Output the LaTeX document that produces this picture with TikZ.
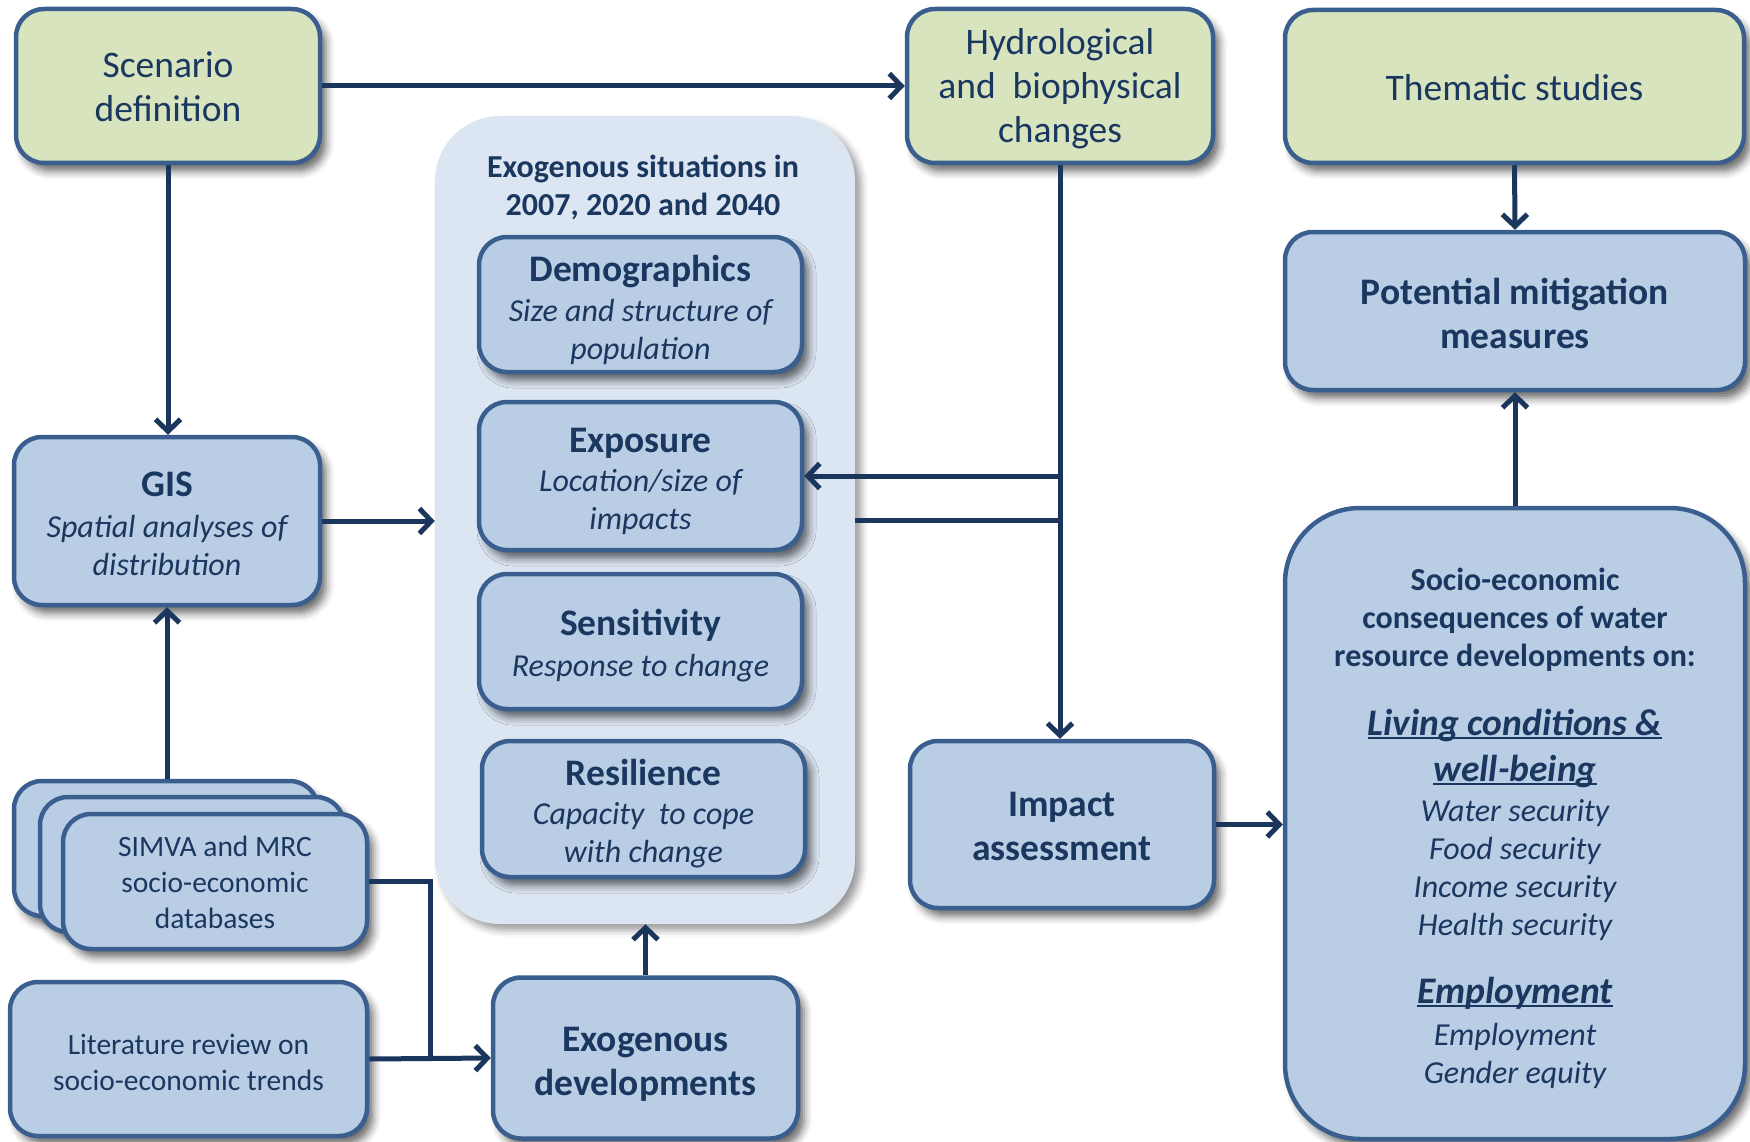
\documentclass[tikz,border=0pt]{standalone}
\usepackage{fontspec}
\setmainfont{Carlito}
\usetikzlibrary{arrows.meta,shadows.blur}
\definecolor{gfill}{HTML}{D7E4BD}
\definecolor{bfill}{HTML}{B9CDE5}
\definecolor{cfill}{HTML}{DCE6F2}
\definecolor{bord}{HTML}{3A5F8F}
\definecolor{txt}{HTML}{1A3760}
\definecolor{arrc}{HTML}{1B365D}
\newcommand\myul[1]{\setbox0\hbox{#1}\rlap{\rule[-4pt]{\wd0}{2pt}}\box0}
\newcommand\fbig{\fontsize{37.5}{44}\selectfont}
\newcommand\fmid{\fontsize{32}{38}\selectfont}
\newcommand\fsm{\fontsize{29.5}{36}\selectfont}
\tikzset{
  boxbase/.style={rounded corners=28pt, draw=bord, line width=4.5pt, inner sep=0pt,
    blur shadow={shadow xshift=6pt, shadow yshift=-8pt, shadow opacity=60, shadow blur radius=8pt}},
  gbox/.style={boxbase, fill=gfill},
  bbox/.style={boxbase, fill=bfill},
  tx/.style={text=txt, align=center, inner sep=0pt},
  conn/.style={draw=arrc, line width=5pt},
  arr/.style={conn, -{Straight Barb[length=12pt, width=25pt, line width=5pt]}},
}
\begin{document}
\begin{tikzpicture}[x=1pt,y=-1pt]
\useasboundingbox (0,0) rectangle (1750,1142);
% container
\node[fill=cfill, rounded corners=65pt, minimum width=420pt, minimum height=808pt, inner sep=0pt,
  blur shadow={shadow xshift=6pt, shadow yshift=-6pt, shadow opacity=40, shadow blur radius=7pt}] (cont) at (645,520) {};
\node[tx, font=\fmid\bfseries] (head) at (643,187) {Exogenous situations in\\2007, 2020 and 2040};
% top row
\node[gbox, minimum width=304pt, minimum height=154pt] (scen) at (168,86) {};
\node[tx, font=\fbig] (scenT) at ([yshift=-1pt]scen.center) {Scenario\\definition};
\node[gbox, minimum width=306pt, minimum height=154pt] (hydro) at (1060,86) {};
\node[tx, font=\fbig] (hydroT) at ([yshift=-3pt]hydro.center) {Hydrological\\and~~biophysical\\changes};
\node[gbox, minimum width=459pt, minimum height=153pt] (them) at (1514.5,86.5) {};
\node[tx, font=\fbig] (themT) at ([yshift=-1pt]them.center) {Thematic studies};
\node[bbox, minimum width=460pt, minimum height=158pt] (pot) at (1515,311) {};
\node[tx, font=\fbig\bfseries] (potT) at ([yshift=-2pt]pot.center) {Potential mitigation\\measures};
% inner boxes
\node[bbox, minimum width=323pt, minimum height=135pt] (demo) at (640.5,304.5) {};
\node[tx, font=\fmid] (demoT) at ([yshift=-5.5pt]demo.center)
  {{\fbig\bfseries Demographics}\\[2pt]{\itshape Size and structure of}\\{\itshape population}};
\node[bbox, minimum width=323pt, minimum height=148pt] (expo) at (640.5,476) {};
\node[tx, font=\fmid] (expoT) at ([yshift=-5.5pt]expo.center)
  {{\fbig\bfseries Exposure}\\[1pt]{\itshape Location/size of}\\{\itshape impacts}};
\node[bbox, minimum width=323pt, minimum height=135pt] (sens) at (640.5,641.5) {};
\node[tx, font=\fmid] (sensT) at ([yshift=-4pt]sens.center)
  {{\fbig\bfseries Sensitivity}\\[3pt]{\itshape Response to change}};
\node[bbox, minimum width=323pt, minimum height=136pt] (resil) at (643.5,809) {};
\node[tx, font=\fmid] (resilT) at ([yshift=-5pt]resil.center)
  {{\fbig\bfseries Resilience}\\[1pt]{\itshape Capacity~ to cope}\\{\itshape with change}};
\node[bbox, minimum width=305pt, minimum height=161pt] (exo) at (645.5,1058) {};
\node[tx, font=\fbig\bfseries] (exoT) at ([yshift=-6pt]exo.center) {Exogenous\\developments};
% left column
\node[bbox, minimum width=306pt, minimum height=168pt] (gis) at (167,521) {};
\node[tx, font=\fmid] (gisT) at ([yshift=-3pt]gis.center)
  {{\fbig\bfseries GIS}\\[3pt]{\itshape Spatial analyses of}\\{\itshape distribution}};
\node[bbox, minimum width=304pt, minimum height=135pt] (simvaA) at (166,848.5) {};
\node[bbox, minimum width=304pt, minimum height=135pt] (simvaB) at (192,864.5) {};
\node[bbox, minimum width=304pt, minimum height=135pt] (simva) at (215,881.5) {};
\node[tx, font=\fsm] (simvaT) at ([yshift=-1pt]simva.center) {SIMVA and MRC\\socio-economic\\databases};
\node[bbox, minimum width=357pt, minimum height=154pt] (lit) at (188.5,1059) {};
\node[tx, font=\fsm] (litT) at ([yshift=-3.5pt]lit.center) {Literature review on\\socio-economic trends};
% right side
\node[bbox, minimum width=304pt, minimum height=167pt] (impact) at (1062,824.5) {};
\node[tx, font=\fbig\bfseries] (impactT) at ([yshift=-1.5pt]impact.center) {Impact\\assessment};
\node[bbox, rounded corners=75pt, minimum width=460pt, minimum height=631pt] (socio) at (1515,823.5) {};
\node[tx, font=\fmid] (socioT) at ([yshift=-4.5pt]socio.center)
  {{\bfseries Socio-economic}\\{\bfseries consequences of water}\\{\bfseries resource developments on:}\\[31pt]
   {\fbig\bfseries\itshape\myul{Living conditions \&}}\\[8pt]
   {\fbig\bfseries\itshape\myul{well-being}}\\[2pt]
   {\itshape Water security}\\{\itshape Food security}\\{\itshape Income security}\\{\itshape Health security}\\[30pt]
   {\fbig\bfseries\itshape\myul{Employment}}\\[4pt]
   {\itshape Employment}\\{\itshape Gender equity}};
% connectors
\draw[arr] (scen.east) -- (hydro.west);
\draw[arr] (scen.south) -- (scen.south |- gis.north);
\draw[arr] (gis.east) -- (cont.west |- gis.east);
\draw[arr] (simvaA.north -| gis.south) -- (gis.south);
\draw[arr] (hydro.south) -- (impact.north -| hydro.south);
\draw[arr] (expo.east -| hydro.south) -- (expo.east);
\draw[conn] (cont.east) -- (cont.east -| hydro.south);
\draw[arr] (impact.east) -- (socio.west |- impact.east);
\draw[arr] (them.south) -- (pot.north);
\draw[arr] (socio.north) -- (pot.south);
\draw[arr] (exo.north) -- (cont.south -| exo.north);
\coordinate (jn) at (430,1059);
\draw[conn] (simva.east) -| (jn);
\draw[arr] (lit.east) -- (exo.west);
\end{tikzpicture}
\end{document}
